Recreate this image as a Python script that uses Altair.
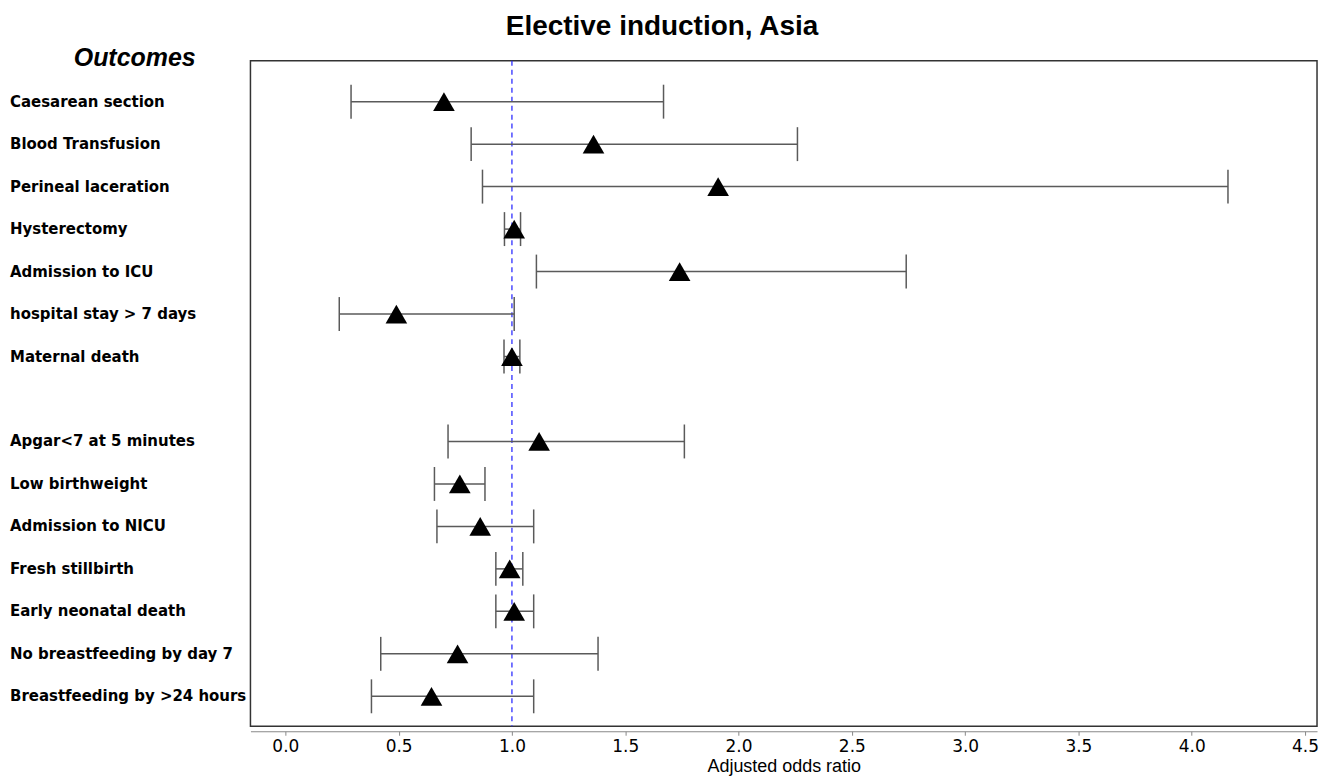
import altair as alt
import pandas as pd

outcomes = [
    "Caesarean section", "Blood Transfusion", "Perineal laceration", "Hysterectomy",
    "Admission to ICU", "hospital stay > 7 days", "Maternal death",
    "Apgar<7 at 5 minutes", "Low birthweight", "Admission to NICU", "Fresh stillbirth",
    "Early neonatal death", "No breastfeeding by day 7", "Breastfeeding by >24 hours",
]
rows = [1, 2, 3, 4, 5, 6, 7, 9, 10, 11, 12, 13, 14, 15]
odds = [0.70, 1.36, 1.91, 1.01, 1.74, 0.49, 1.00, 1.12, 0.77, 0.86, 0.99, 1.01, 0.76, 0.645]
lower = [0.29, 0.82, 0.87, 0.967, 1.108, 0.238, 0.965, 0.718, 0.658, 0.669, 0.929, 0.929, 0.421, 0.38]
upper = [1.669, 2.26, 4.16, 1.038, 2.74, 1.01, 1.035, 1.761, 0.881, 1.096, 1.048, 1.096, 1.38, 1.096]
x_ticks = [0.0, 0.5, 1.0, 1.5, 2.0, 2.5, 3.0, 3.5, 4.0, 4.5]

df = pd.DataFrame({"outcome": outcomes, "row": rows, "or": odds, "lo": lower, "hi": upper})

W, H = 1069, 667
xs = alt.Scale(domain=[-0.154, 4.553], nice=False, zero=False)
ys = alt.Scale(domain=[0.037, 15.705], reverse=True, nice=False, zero=False)

base = alt.Chart(df)

ref = alt.Chart(pd.DataFrame({"v": [1.0]})).mark_rule(
    color="#2f2fff", strokeDash=[5, 4], strokeWidth=1.3
).encode(
    x=alt.X("v:Q", scale=xs, axis=alt.Axis(
        values=x_ticks, format=".1f", grid=False, offset=5,
        domainColor="#888888", domainWidth=1.2, tickColor="#888888", tickSize=4,
        labelFont="DejaVu Sans", labelFontSize=17, labelColor="black", labelPadding=3,
        labelFlush=False,
        title="Adjusted odds ratio", titleFont="Liberation Sans", titleFontSize=18,
        titleFontWeight="normal", titleColor="black", titlePadding=3,
    )),
    y=alt.value(0), y2=alt.value(H),
)

bars = base.mark_rule(color="#5a5a5a", strokeWidth=1.5).encode(
    x=alt.X("lo:Q", scale=xs), x2="hi:Q",
    y=alt.Y("row:Q", scale=ys, axis=None),
)
cap_lo = base.mark_rule(color="#5a5a5a", strokeWidth=1.5, yOffset=-17, y2Offset=17).encode(
    x=alt.X("lo:Q", scale=xs), y=alt.Y("row:Q", scale=ys, axis=None), y2="row:Q",
)
cap_hi = base.mark_rule(color="#5a5a5a", strokeWidth=1.5, yOffset=-17, y2Offset=17).encode(
    x=alt.X("hi:Q", scale=xs), y=alt.Y("row:Q", scale=ys, axis=None), y2="row:Q",
)
pts = base.mark_point(shape="triangle-up", filled=True, color="black", size=470, opacity=1).encode(
    x=alt.X("or:Q", scale=xs), y=alt.Y("row:Q", scale=ys, axis=None),
)
labels = base.mark_text(
    align="left", baseline="middle", font="DejaVu Sans", fontWeight="bold",
    fontSize=15, color="black",
).encode(
    x=alt.value(-241), y=alt.Y("row:Q", scale=ys, axis=None), text="outcome:N",
)
head = alt.Chart(pd.DataFrame({"t": ["Outcomes"]})).mark_text(
    align="center", baseline="middle", font="Liberation Sans", fontWeight="bold",
    fontStyle="italic", fontSize=25, color="black",
).encode(x=alt.value(-116), y=alt.value(-3), text="t:N")

chart = alt.layer(ref, bars, cap_lo, cap_hi, pts, labels, head).properties(
    width=W, height=H,
    title=alt.TitleParams(
        "Elective induction, Asia", anchor="middle", dx=-122, offset=5,
        font="Liberation Sans", fontSize=28, fontWeight="bold", color="black",
    ),
    autosize=alt.AutoSizeParams(type="none"),
    padding={"left": 243, "top": 52, "right": 10, "bottom": 60},
).configure(background="white").configure_view(stroke="#333333", strokeWidth=1.5)

chart.save("out.html", embed_options={"renderer": "svg", "actions": False})
